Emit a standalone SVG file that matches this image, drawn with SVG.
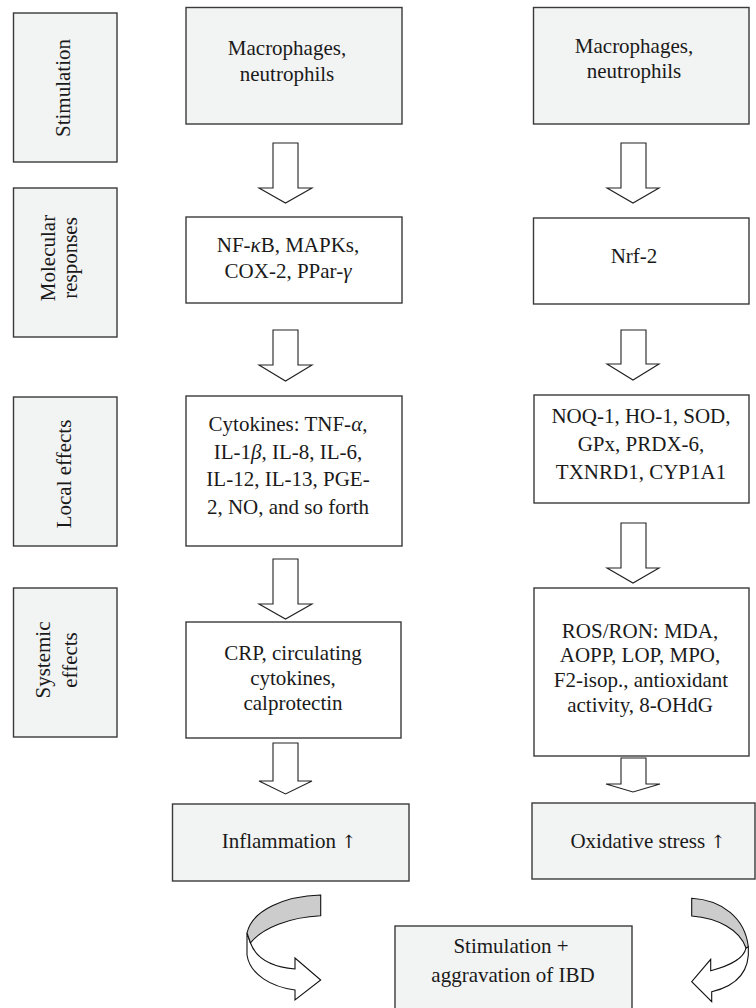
<svg xmlns="http://www.w3.org/2000/svg" width="756" height="1008" viewBox="0 0 756 1008">
<style>
.g{fill:#f2f3f3;stroke:#3a3a3a;stroke-width:1.4}
.w{fill:#ffffff;stroke:#3a3a3a;stroke-width:1.4}
.t{font-family:"Liberation Serif","Times New Roman",serif;font-size:21px;fill:#1a1a1a;text-anchor:middle}
.i{font-style:italic}
.ar{font-family:"DejaVu Serif",serif;font-size:18px;fill:#1a1a1a}
.a{fill:#ffffff;stroke:#222;stroke-width:1.1;stroke-linejoin:miter}
.c{fill:#cccccc;stroke:#111;stroke-width:1.1}
.cw{fill:#ffffff;stroke:#111;stroke-width:1.1}
</style>
<rect width="756" height="1008" fill="#ffffff"/>

<g id="label-stimulation">
<rect class="g" x="13.5" y="13" width="103.5" height="149"/>
<text class="t" transform="translate(70,88) rotate(-90)">Stimulation</text>
</g>
<g id="label-molecular">
<rect class="g" x="13.5" y="188" width="103.5" height="149"/>
<text class="t" transform="translate(55,258) rotate(-90)">Molecular</text>
<text class="t" transform="translate(77,258) rotate(-90)">responses</text>
</g>
<g id="label-local">
<rect class="g" x="13.5" y="397" width="103.5" height="149"/>
<text class="t" transform="translate(70.5,474) rotate(-90)">Local effects</text>
</g>
<g id="label-systemic">
<rect class="g" x="13.5" y="588" width="103.5" height="149"/>
<text class="t" transform="translate(50,660) rotate(-90)">Systemic</text>
<text class="t" transform="translate(77,660) rotate(-90)">effects</text>
</g>

<g id="left-macrophages">
<rect class="g" x="186" y="7.5" width="216" height="116.5"/>
<text class="t" x="287" y="55">Macrophages,</text>
<text class="t" x="287" y="81">neutrophils</text>
</g>
<g id="left-molecular">
<rect class="w" x="186" y="217" width="216" height="86"/>
<text class="t" x="288" y="252">NF-<tspan class="i">κ</tspan>B, MAPKs,</text>
<text class="t" x="288" y="278">COX-2, PPar-<tspan class="i">γ</tspan></text>
</g>
<g id="left-local">
<rect class="w" x="186" y="396" width="216" height="150"/>
<text class="t" x="288" y="431">Cytokines: TNF-<tspan class="i">α</tspan>,</text>
<text class="t" x="288" y="459">IL-1<tspan class="i">β</tspan>, IL-8, IL-6,</text>
<text class="t" x="288" y="486">IL-12, IL-13, PGE-</text>
<text class="t" x="288" y="514">2, NO, and so forth</text>
</g>
<g id="left-systemic">
<rect class="w" x="186" y="622" width="215" height="116"/>
<text class="t" x="293" y="660">CRP, circulating</text>
<text class="t" x="293" y="685">cytokines,</text>
<text class="t" x="293" y="710">calprotectin</text>
</g>
<g id="inflammation">
<rect class="g" x="172.5" y="804" width="236.5" height="77"/>
<text class="t" x="289" y="848">Inflammation <tspan class="ar">↑</tspan></text>
</g>

<g id="right-macrophages">
<rect class="g" x="533.5" y="7.5" width="215.5" height="116.5"/>
<text class="t" x="634" y="53">Macrophages,</text>
<text class="t" x="634" y="78">neutrophils</text>
</g>
<g id="right-molecular">
<rect class="w" x="533.5" y="218" width="215.5" height="86"/>
<text class="t" x="634" y="263">Nrf-2</text>
</g>
<g id="right-local">
<rect class="w" x="534" y="395" width="215" height="108"/>
<text class="t" x="641" y="423">NOQ-1, HO-1, SOD,</text>
<text class="t" x="641" y="451">GPx, PRDX-6,</text>
<text class="t" x="641" y="479">TXNRD1, CYP1A1</text>
</g>
<g id="right-systemic">
<rect class="w" x="534" y="588" width="215" height="168"/>
<text class="t" x="640" y="638">ROS/RON: MDA,</text>
<text class="t" x="640" y="662">AOPP, LOP, MPO,</text>
<text class="t" x="641" y="687">F2-isop., antioxidant</text>
<text class="t" x="640" y="712">activity, 8-OHdG</text>
</g>
<g id="oxidative-stress">
<rect class="g" x="532" y="803" width="223" height="76"/>
<text class="t" x="648" y="848">Oxidative stress <tspan class="ar">↑</tspan></text>
</g>
<g id="ibd">
<rect class="g" x="395" y="926" width="237" height="90"/>
<text class="t" x="511" y="953">Stimulation +</text>
<text class="t" x="513" y="982">aggravation of IBD</text>
</g>

<g id="connectors">
<path class="a" d="M273,143 H298 V188 H312 L285.5,203 L259,188 H273 Z"/>
<path class="a" d="M273,330 H298 V365 H312 L285.5,381 L259,365 H273 Z"/>
<path class="a" d="M273,559 H298 V604 H312 L285.5,619 L259,604 H273 Z"/>
<path class="a" d="M273,743 H298 V781 H312 L285.5,794 L259,781 H273 Z"/>
<path class="a" d="M621,143 H646 V188 H659 L633,203 L607,188 H621 Z"/>
<path class="a" d="M621,330 H646 V364 H659 L633,380 L607,364 H621 Z"/>
<path class="a" d="M621,523 H646 V568 H659 L633,583 L607,568 H621 Z"/>
<path class="a" d="M621,758 H646 V784 H660 L633,792 L606,784 H621 Z"/>
<g id="curved-left">
<path class="cw" d="M247,933 L247,955 C250,975 272,987 295,990 L295,1000 L320.7,980 L295,958 L295,969 C272,967 256,958 250.5,943 Z"/>
<path class="c" d="M320.7,895 C285,896 252,910 247,933 L250.5,943 C262,928 290,917 320.7,915.7 Z"/>
</g>
<g id="curved-right">
<path class="cw" d="M748.3,946.7 C750,968 740,985 711.7,991.7 L711.7,1001.7 L691.7,981.7 L710.7,959.3 L710.7,970.7 C730,966 744,958 746,948 Z"/>
<path class="c" d="M691.7,898.3 C722,900 745,918 748.3,946.7 L746,948 C740,930 718,918 691.7,916 Z"/>
</g>
</g>
</svg>
